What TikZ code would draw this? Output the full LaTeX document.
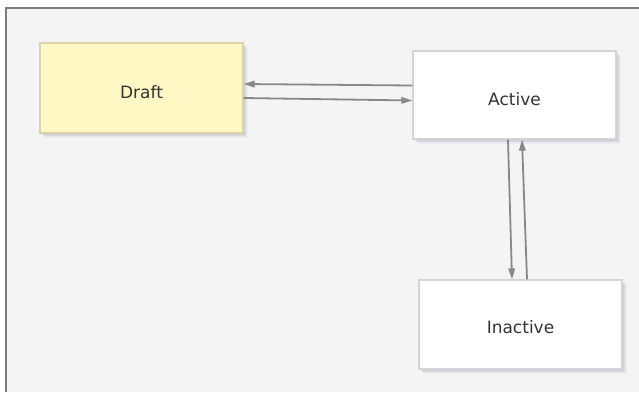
\documentclass[tikz,border=0pt]{standalone}
\usepackage{fontspec}
\setmainfont{DejaVu Sans}
\usetikzlibrary{arrows.meta}
\definecolor{bg}{HTML}{F4F4F4}
\definecolor{frame}{HTML}{7A7A7A}
\definecolor{draftfill}{HTML}{FFF8C4}
\definecolor{draftline}{HTML}{DCD4A4}
\definecolor{boxline}{HTML}{D4D4D4}
\definecolor{shadowc}{HTML}{8890B0}
\definecolor{edgec}{HTML}{888888}
\definecolor{textc}{HTML}{333333}
\tikzset{
  statebox/.style={draw=boxline, line width=1.2pt, fill=white, minimum width=203pt, minimum height=89pt, inner sep=0pt, text height=20pt, text depth=0pt, text=textc, font=\fontsize{17}{20}\selectfont},
  draftbox/.style={statebox, draw=draftline, fill=draftfill},
  flow/.style={draw=edgec, line width=1.8pt, -{Triangle[length=11pt,width=6.5pt]}},
}
\newcommand{\boxshadow}[4]{%
  \foreach \o/\a in {1/0.22,2/0.17,3/0.12,4/0.08,5/0.05}{
    \fill[shadowc, opacity=\a] (#1+\o,#2+\o) rectangle (#3+\o,#4+\o);
  }%
}
\begin{document}
\begin{tikzpicture}[x=1pt,y=-1pt]
\useasboundingbox (0,0) rectangle (639,392);
\fill[bg] (5.5,7.5) rectangle (639,392);
\draw[frame, line width=2pt] (5.5,392) -- (5.5,7.5) -- (639,7.5);
\boxshadow{40}{43}{243}{133}
\boxshadow{413}{51}{616}{139}
\boxshadow{419}{280}{622}{369}
\node[draftbox, minimum height=90pt] (draft) at (141.5,88) {Draft};
\node[statebox, minimum height=88pt] (active) at (514.5,95) {Active};
\node[statebox, text height=17pt] (inactive) at (520.5,324.5) {Inactive};
\draw[flow] ([yshift=9.5pt]active.west) -- ([yshift=4pt]draft.east);
\draw[flow] ([yshift=-10pt]draft.east) -- ([yshift=-5.5pt]active.west);
\draw[flow] ([xshift=-6.5pt]active.south) -- ([xshift=-8.5pt]inactive.north);
\draw[flow] ([xshift=6.5pt]inactive.north) -- ([xshift=7.5pt]active.south);
\end{tikzpicture}
\end{document}
